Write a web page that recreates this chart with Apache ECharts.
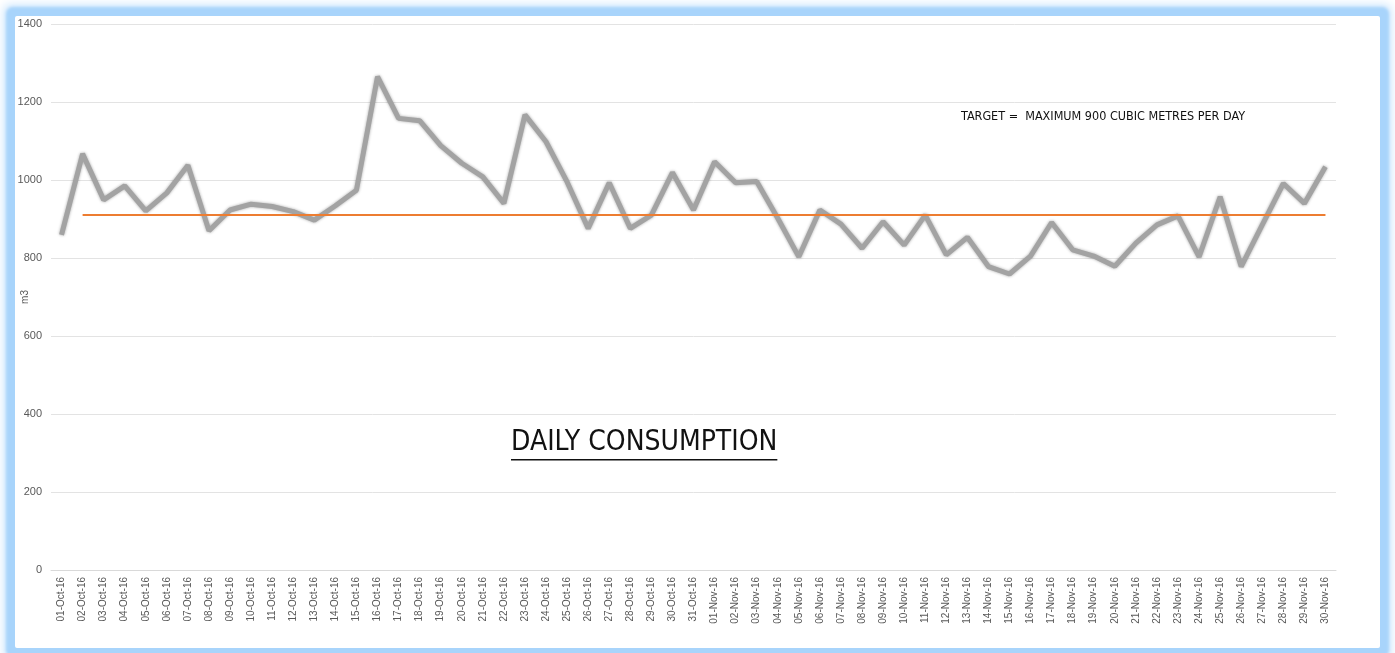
<!DOCTYPE html>
<html>
<head>
<meta charset="utf-8">
<title>Daily consumption</title>
<script src="https://cdn.jsdelivr.net/npm/echarts@6/dist/echarts.min.js"></script>
<style>
    html, body { margin: 0; padding: 0; background: #fff; }
    #frame {
        position: absolute; left: 15px; top: 16px; width: 1365px; height: 632px;
        background: #fff; border-radius: 2px;
        box-shadow: 0 0 3px 9px #a8d4fb, 0 0 8px 12px #d2e9fd;
    }
    #chart { position: absolute; left: 0; top: 0; width: 1395px; height: 653px; }
</style>
</head>
<body>
<div id="frame"></div>
<div id="chart"></div>
<script>
// tanggal (kategori sumbu x)
const days = [
    '01-Oct-16','02-Oct-16','03-Oct-16','04-Oct-16','05-Oct-16','06-Oct-16','07-Oct-16','08-Oct-16',
    '09-Oct-16','10-Oct-16','11-Oct-16','12-Oct-16','13-Oct-16','14-Oct-16','15-Oct-16','16-Oct-16',
    '17-Oct-16','18-Oct-16','19-Oct-16','20-Oct-16','21-Oct-16','22-Oct-16','23-Oct-16','24-Oct-16',
    '25-Oct-16','26-Oct-16','27-Oct-16','28-Oct-16','29-Oct-16','30-Oct-16','31-Oct-16',
    '01-Nov-16','02-Nov-16','03-Nov-16','04-Nov-16','05-Nov-16','06-Nov-16','07-Nov-16','08-Nov-16',
    '09-Nov-16','10-Nov-16','11-Nov-16','12-Nov-16','13-Nov-16','14-Nov-16','15-Nov-16','16-Nov-16',
    '17-Nov-16','18-Nov-16','19-Nov-16','20-Nov-16','21-Nov-16','22-Nov-16','23-Nov-16','24-Nov-16',
    '25-Nov-16','26-Nov-16','27-Nov-16','28-Nov-16','29-Nov-16','30-Nov-16'
]

// pemakaian harian (m3)
const consumption = [
    859, 1067, 949, 985, 921, 967, 1038, 870, 923, 938,
    932, 919, 897, 934, 974, 1265, 1158, 1152, 1088, 1043,
    1008, 940, 1167, 1098, 995, 876, 993, 876, 910, 1019,
    923, 1047, 993, 996, 902, 803, 923, 887, 825, 893,
    833, 910, 808, 853, 778, 759, 805, 891, 821, 805,
    779, 838, 885, 908, 803, 957, 778, 885, 991, 940, 1034
]

// garis target (mulai dari 02-Oct)
const targetValue = 910
const targetStart = 1
const targetLine = days.map((d, i) => (i >= targetStart ? targetValue : null))

const yMin = 0
const yMax = 1400
const yStep = 200

const titleText = 'DAILY CONSUMPTION'
const targetText = 'TARGET =  MAXIMUM 900 CUBIC METRES PER DAY'

// lebar judul untuk garis bawah
const titleFont = '28px "Liberation Sans Narrow", "DejaVu Sans Condensed", sans-serif'
const ctx = document.createElement('canvas').getContext('2d')
ctx.font = titleFont
const titleWidth = ctx.measureText(titleText).width
const titleX = 511
const titleY = 443

var chart = echarts.init(document.getElementById('chart'))
option = {
    animation: false,
    grid: {
        left: 51,
        right: 59,
        top: 24,
        bottom: 83,
        outerBoundsMode: 'none',
        containLabel: false
    },
    xAxis: {
        type: 'category',
        data: days,
        boundaryGap: true,
        axisLine: { lineStyle: { color: '#d9d9d9', width: 1 } },
        axisTick: { show: false },
        axisLabel: {
            rotate: 90,
            interval: 0,
            margin: 7,
            color: '#595959',
            fontSize: 10,
            fontFamily: '"Liberation Sans", Arial, sans-serif'
        }
    },
    yAxis: {
        type: 'value',
        min: yMin,
        max: yMax,
        interval: yStep,
        name: 'm3',
        nameLocation: 'middle',
        nameGap: 21,
        nameRotate: 90,
        nameMoveOverlap: false,
        nameTextStyle: { color: '#595959', fontSize: 10, fontFamily: '"Liberation Sans", Arial, sans-serif' },
        axisLine: { show: false },
        axisTick: { show: false },
        axisLabel: {
            margin: 9,
            color: '#595959',
            fontSize: 11,
            fontFamily: '"Liberation Sans Narrow", "Liberation Sans", sans-serif',
            formatter: (v) => String(v)
        },
        splitLine: { lineStyle: { color: '#e3e3e3', width: 1 } }
    },
    series: [
        {
            name: 'Consumption',
            type: 'line',
            data: consumption,
            symbol: 'none',
            lineStyle: {
                color: '#a3a3a3',
                width: 5,
                shadowColor: 'rgba(0,0,0,0.35)',
                shadowBlur: 3
            },
            z: 2
        },
        {
            name: 'Target',
            type: 'line',
            data: targetLine,
            symbol: 'none',
            lineStyle: { color: '#ed7d31', width: 2 },
            z: 3
        }
    ],
    graphic: [
        {
            type: 'text',
            left: 961,
            top: 110,
            style: {
                text: targetText,
                fill: '#111',
                font: '12.5px "Liberation Sans Narrow", "DejaVu Sans Condensed", sans-serif'
            }
        },
        {
            type: 'text',
            x: titleX,
            y: titleY,
            style: {
                text: titleText,
                fill: '#111',
                font: titleFont,
                verticalAlign: 'middle'
            }
        },
        {
            type: 'rect',
            shape: { x: titleX, y: titleY + 16, width: titleWidth, height: 1.5 },
            style: { fill: '#111' }
        }
    ]
}
chart.setOption(option)
</script>
</body>
</html>
